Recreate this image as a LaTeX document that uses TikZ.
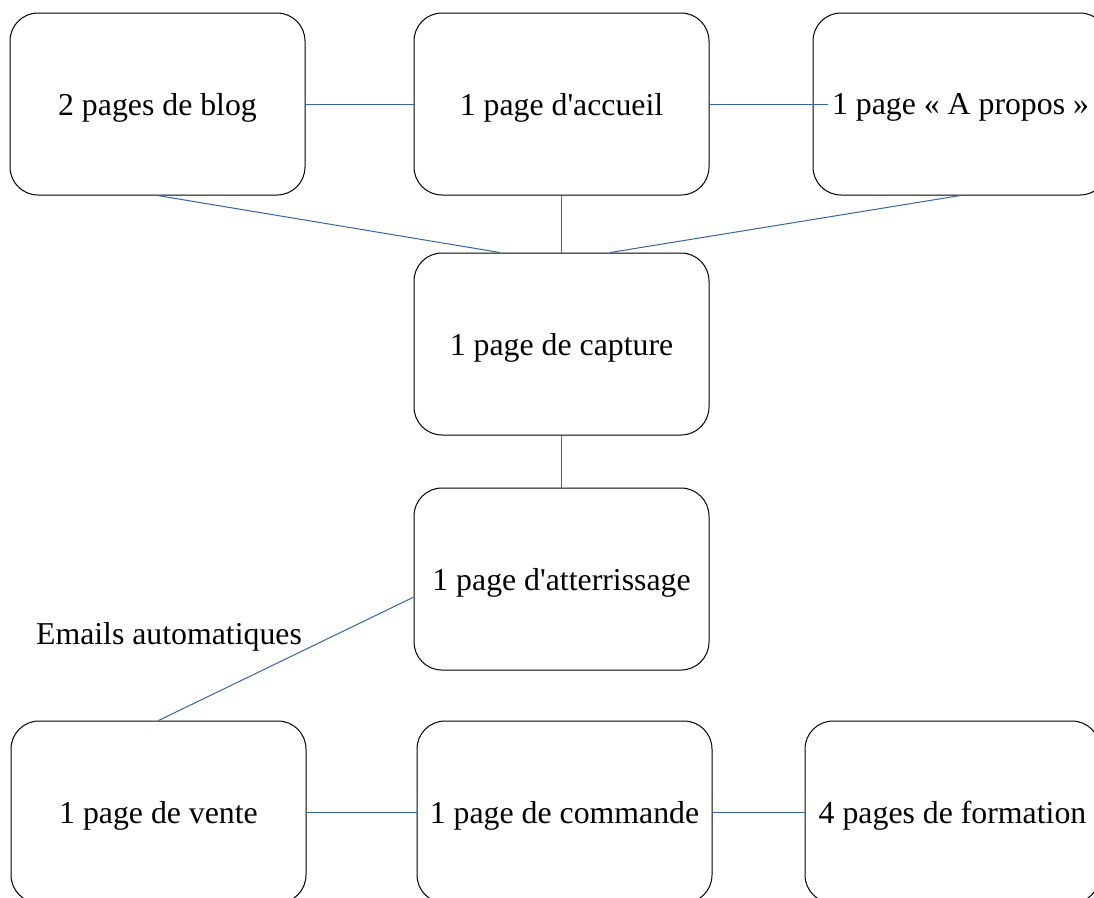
\documentclass[tikz,border=0pt]{standalone}
\usepackage{fontspec}
\setmainfont{Liberation Serif}
\definecolor{lienbleu}{HTML}{3465A4}
\begin{document}
\begin{tikzpicture}[x=0.75pt,y=-0.75pt,
    page/.style={draw=black,line width=0.75pt,rounded corners=21pt,
      minimum width=221.25pt,minimum height=136.5pt,inner sep=0pt,
      text depth=0pt,font=\fontsize{23.85}{28}\selectfont},
    lien/.style={draw=lienbleu,line width=0.75pt}]
      \useasboundingbox (0,0) rectangle (1094,897);
      \clip (0,0) rectangle (1094,897);

      % top row
      \node[page] (blog) at (157.5,104) {2 pages de blog};
      \node[page] (accueil) at (561.5,104) {1 page d\textquotesingle accueil};
      \node[page] (apropos) at (960.5,104) {1 page « A propos »};

      % middle column
      \node[page] (capture) at (561.5,344) {1 page de capture};
      \node[page] (atterrissage) at (561.5,579) {1 page d\textquotesingle atterrissage};

      % bottom row
      \node[page] (vente) at (158.5,812) {1 page de vente};
      \node[page] (commande) at (564.5,812) {1 page de commande};
      \node[page] (formation) at (952.5,812) {4 pages de formation};

      \node[font=\fontsize{23.85}{28}\selectfont] (emails) at (169,637) {Emails automatiques};

      \draw[lien] (blog.east) -- (accueil.west);
      \draw[lien] (accueil.east) -- ([xshift=11.25pt]apropos.west);
      \draw[lien] (blog.south) -- (capture.124);
      \draw[lien] (accueil.south) -- (capture.north);
      \draw[lien] (apropos.south) -- (capture.62);
      \draw[lien] (capture.south) -- (atterrissage.north);
      \draw[lien] (atterrissage.187) -- (vente.north);
      \draw[lien] (vente.east) -- (commande.west);
      \draw[lien] (commande.east) -- (formation.west);
    \end{tikzpicture}
\end{document}
